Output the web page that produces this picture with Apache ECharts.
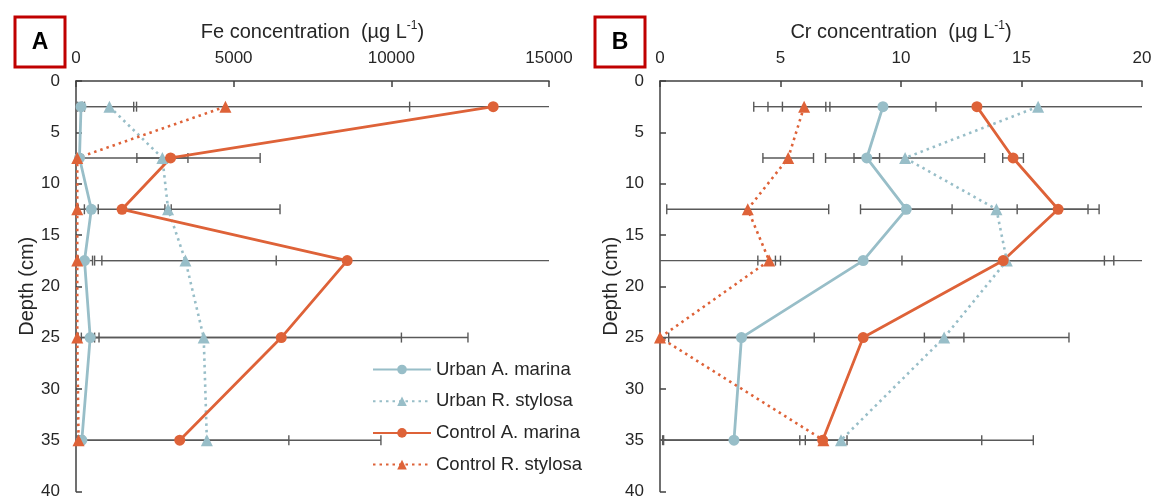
<!DOCTYPE html>
<html>
<head>
<meta charset="utf-8">
<script src="https://cdn.jsdelivr.net/npm/echarts@6/dist/echarts.min.js"></script>
<style>
html,body{margin:0;padding:0;background:#fff;}
#chart{width:1158px;height:500px;}
</style>
</head>
<body>
<div id="chart"></div>
<script>
// ---- data ----
var depths = [2.5, 7.5, 12.5, 17.5, 25, 35];
var seriesNames = ['Urban A. marina', 'Urban R. stylosa', 'Control A. marina', 'Control R. stylosa'];
var depthTicks = [0, 5, 10, 15, 20, 25, 30, 35, 40];

// Panel A: Fe (µg/L)
var feUrbanAM = [160, 110, 486, 270, 450, 185];
var feUrbanRS = [1060, 2740, 2920, 3470, 4050, 4150];
var feControlAM = [13230, 3000, 1460, 8600, 6510, 3290];
var feControlRS = [4740, 40, 40, 40, 40, 80];
var feUrbanAMErr = [110, 60, 220, 255, 280, 60];
var feUrbanRSErr = [860, 810, 100, 2880, 6270, 5520];
var feControlAMErr = [11400, 2840, 5010, 7780, 5920, 3460];
var feControlRSErr = [5840, 30, 30, 30, 30, 40];
var feTicks = [0, 5000, 10000, 15000];

// Panel B: Cr (µg/L)
var crUrbanAM = [9.25, 8.58, 10.22, 8.43, 3.38, 3.07];
var crUrbanRS = [15.69, 10.17, 13.96, 14.39, 11.79, 7.51];
var crControlAM = [13.15, 14.65, 16.52, 14.24, 8.43, 6.75];
var crControlRS = [5.98, 5.32, 3.64, 4.53, 0.0, 6.78];
var crUrbanAMErr = [2.2, 0.53, 1.9, 10.4, 3.02, 2.96];
var crUrbanRSErr = [11.8, 3.3, 3.8, 9.6, 0.82, 7.98];
var crControlAMErr = [8.67, 0.43, 1.7, 4.2, 8.54, 6.6];
var crControlRSErr = [0.9, 1.05, 3.36, 0.47, 0, 0.98];
var crTicks = [0, 5, 10, 15, 20];

// ---- styles ----
var BLUE = '#98bec8';
var ORANGE = '#de6238';
var AXIS = '#404040';
var TXT = '#262626';
var ERR = '#595959';
var FONT = 'Liberation Sans, Arial, sans-serif';

function pts(xs) { return xs.map(function (v, i) { return [v, depths[i]]; }); }

function errData(groups) {
  var out = [];
  groups.forEach(function (g) {
    g[0].forEach(function (v, i) { out.push([v, depths[i], g[1][i]]); });
  });
  return out;
}

function makeErrRender(xmin, xmax) {
  return function (params, api) {
    var v = api.value(0), d = api.value(1), e = api.value(2);
    if (!e) return null;
    var lo = v - e, hi = v + e;
    var loC = Math.max(lo, xmin), hiC = Math.min(hi, xmax);
    var p1 = api.coord([loC, d]), p2 = api.coord([hiC, d]);
    var style = { stroke: ERR, lineWidth: 1.4 };
    var children = [{ type: 'line', shape: { x1: p1[0], y1: p1[1], x2: p2[0], y2: p2[1] }, style: style }];
    var h = 5;
    if (lo >= xmin) children.push({ type: 'line', shape: { x1: p1[0], y1: p1[1] - h, x2: p1[0], y2: p1[1] + h }, style: style });
    if (hi <= xmax) children.push({ type: 'line', shape: { x1: p2[0], y1: p2[1] - h, x2: p2[0], y2: p2[1] + h }, style: style });
    return { type: 'group', children: children };
  };
}

function lineSeries(name, data, idx, color, dotted, symbol) {
  return {
    name: name, type: 'line', xAxisIndex: idx, yAxisIndex: idx,
    data: pts(data), symbol: symbol, symbolSize: symbol === 'circle' ? 11 : 12,
    z: 3,
    lineStyle: { color: color, width: dotted ? 2.6 : 2.8, type: dotted ? [2.5, 4] : 'solid' },
    itemStyle: { color: color },
    emphasis: { disabled: true }
  };
}

var xName = function (el) {
  return '{a|' + el + ' concentration  (µg L}{s|-1}{a|)}';
};
var nameRich = {
  a: { fontSize: 20, fontFamily: FONT, color: TXT },
  s: { fontSize: 12, fontFamily: FONT, color: TXT, padding: [0, 0, 12, 0] }
};

function xAxisCfg(idx, ticks, el) {
  return {
    type: 'value', gridIndex: idx, position: 'top',
    min: ticks[0], max: ticks[ticks.length - 1], interval: ticks[1] - ticks[0],
    name: xName(el), nameLocation: 'middle', nameGap: 37,
    nameTextStyle: { rich: nameRich },
    axisLine: { show: true, lineStyle: { color: AXIS, width: 1.5 } },
    axisTick: { show: true, inside: true, length: 6, lineStyle: { color: AXIS, width: 1.5 } },
    axisLabel: { fontSize: 17, fontFamily: FONT, color: TXT, margin: 14, formatter: function (v) { return String(v); } },
    splitLine: { show: false }
  };
}
function yAxisCfg(idx) {
  return {
    type: 'value', gridIndex: idx, inverse: true,
    min: depthTicks[0], max: depthTicks[depthTicks.length - 1], interval: depthTicks[1] - depthTicks[0],
    name: 'Depth (cm)', nameLocation: 'middle', nameGap: 38,
    nameTextStyle: { fontSize: 20, fontFamily: FONT, color: TXT },
    axisLine: { show: true, onZero: false, lineStyle: { color: AXIS, width: 1.5 } },
    axisTick: { show: true, inside: true, length: 6, lineStyle: { color: AXIS, width: 1.5 } },
    axisLabel: { fontSize: 17, fontFamily: FONT, color: TXT, margin: 16 },
    splitLine: { show: false }
  };
}

var chart = echarts.init(document.getElementById('chart'), null, { renderer: 'canvas' });
var option = {
  animation: false,
  backgroundColor: '#ffffff',
  grid: [
    { left: 76, top: 81, width: 473, height: 412 },
    { left: 660, top: 81, width: 482, height: 412 }
  ],
  xAxis: [xAxisCfg(0, feTicks, 'Fe'), xAxisCfg(1, crTicks, 'Cr')],
  yAxis: [yAxisCfg(0), yAxisCfg(1)],
  legend: {
    data: seriesNames, orient: 'vertical', left: 372, top: 360, padding: 0,
    itemWidth: 58, itemHeight: 12, itemGap: 12.7,
    textStyle: { fontSize: 18.5, fontFamily: FONT, color: TXT, lineHeight: 18 },
    selectedMode: false
  },
  graphic: [
    { type: 'rect', shape: { x: 15, y: 17, width: 50, height: 50 }, style: { fill: '#fff', stroke: '#c00000', lineWidth: 3 } },
    { type: 'text', x: 40, y: 43, style: { text: 'A', font: 'bold 23px ' + FONT, fill: '#000', align: 'center', verticalAlign: 'middle' } },
    { type: 'rect', shape: { x: 595, y: 17, width: 50, height: 50 }, style: { fill: '#fff', stroke: '#c00000', lineWidth: 3 } },
    { type: 'text', x: 620, y: 43, style: { text: 'B', font: 'bold 23px ' + FONT, fill: '#000', align: 'center', verticalAlign: 'middle' } }
  ],
  series: [
    {
      type: 'custom', xAxisIndex: 0, yAxisIndex: 0, z: 2, silent: true,
      renderItem: makeErrRender(feTicks[0], feTicks[feTicks.length - 1]),
      data: errData([[feUrbanAM, feUrbanAMErr], [feUrbanRS, feUrbanRSErr], [feControlAM, feControlAMErr], [feControlRS, feControlRSErr]])
    },
    {
      type: 'custom', xAxisIndex: 1, yAxisIndex: 1, z: 2, silent: true,
      renderItem: makeErrRender(crTicks[0], crTicks[crTicks.length - 1]),
      data: errData([[crUrbanAM, crUrbanAMErr], [crUrbanRS, crUrbanRSErr], [crControlAM, crControlAMErr], [crControlRS, crControlRSErr]])
    },
    lineSeries(seriesNames[0], feUrbanAM, 0, BLUE, false, 'circle'),
    lineSeries(seriesNames[1], feUrbanRS, 0, BLUE, true, 'triangle'),
    lineSeries(seriesNames[2], feControlAM, 0, ORANGE, false, 'circle'),
    lineSeries(seriesNames[3], feControlRS, 0, ORANGE, true, 'triangle'),
    lineSeries(seriesNames[0], crUrbanAM, 1, BLUE, false, 'circle'),
    lineSeries(seriesNames[1], crUrbanRS, 1, BLUE, true, 'triangle'),
    lineSeries(seriesNames[2], crControlAM, 1, ORANGE, false, 'circle'),
    lineSeries(seriesNames[3], crControlRS, 1, ORANGE, true, 'triangle')
  ]
};
chart.setOption(option);
</script>
</body>
</html>
